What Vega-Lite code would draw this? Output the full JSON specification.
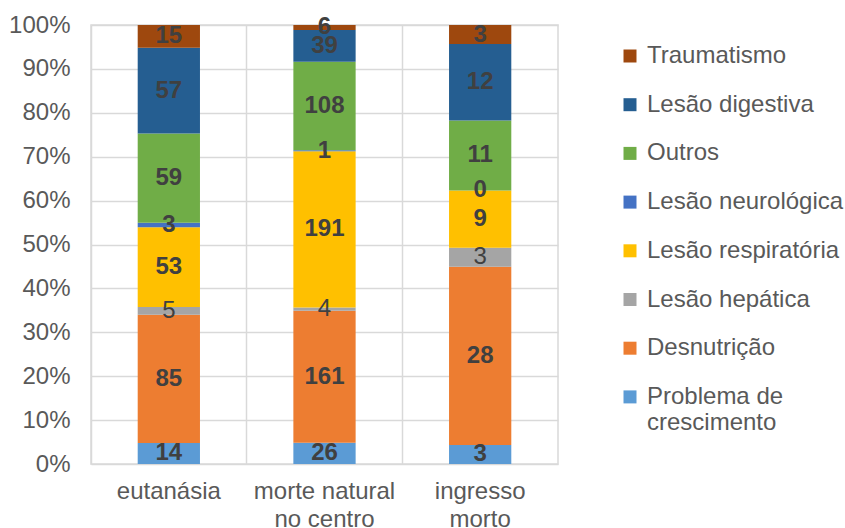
{
  "$schema": "https://vega.github.io/schema/vega-lite/v6.json",
  "width": 467,
  "height": 439,
  "autosize": {"type": "none"},
  "padding": {"left": 91, "top": 25, "right": 287, "bottom": 64},
  "background": "white",
  "config": {
    "font": "Liberation Sans",
    "view": {"stroke": "#d9d9d9", "strokeWidth": 1.5}
  },
  "data": {
    "values": [
      {"grupo": "eutanásia", "causa": "Problema de crescimento", "n": 14},
      {"grupo": "eutanásia", "causa": "Desnutrição", "n": 85},
      {"grupo": "eutanásia", "causa": "Lesão hepática", "n": 5},
      {"grupo": "eutanásia", "causa": "Lesão respiratória", "n": 53},
      {"grupo": "eutanásia", "causa": "Lesão neurológica", "n": 3},
      {"grupo": "eutanásia", "causa": "Outros", "n": 59},
      {"grupo": "eutanásia", "causa": "Lesão digestiva", "n": 57},
      {"grupo": "eutanásia", "causa": "Traumatismo", "n": 15},
      {"grupo": "morte natural no centro", "causa": "Problema de crescimento", "n": 26},
      {"grupo": "morte natural no centro", "causa": "Desnutrição", "n": 161},
      {"grupo": "morte natural no centro", "causa": "Lesão hepática", "n": 4},
      {"grupo": "morte natural no centro", "causa": "Lesão respiratória", "n": 191},
      {"grupo": "morte natural no centro", "causa": "Lesão neurológica", "n": 1},
      {"grupo": "morte natural no centro", "causa": "Outros", "n": 108},
      {"grupo": "morte natural no centro", "causa": "Lesão digestiva", "n": 39},
      {"grupo": "morte natural no centro", "causa": "Traumatismo", "n": 6},
      {"grupo": "ingresso morto", "causa": "Problema de crescimento", "n": 3},
      {"grupo": "ingresso morto", "causa": "Desnutrição", "n": 28},
      {"grupo": "ingresso morto", "causa": "Lesão hepática", "n": 3},
      {"grupo": "ingresso morto", "causa": "Lesão respiratória", "n": 9},
      {"grupo": "ingresso morto", "causa": "Lesão neurológica", "n": 0},
      {"grupo": "ingresso morto", "causa": "Outros", "n": 11},
      {"grupo": "ingresso morto", "causa": "Lesão digestiva", "n": 12},
      {"grupo": "ingresso morto", "causa": "Traumatismo", "n": 3}
    ]
  },
  "transform": [
    {"calculate": "indexof(['Problema de crescimento','Desnutrição','Lesão hepática','Lesão respiratória','Lesão neurológica','Outros','Lesão digestiva','Traumatismo'], datum.causa)", "as": "ordem"},
    {"stack": "n", "groupby": ["grupo"], "sort": [{"field": "ordem"}], "offset": "normalize", "as": ["y0", "y1"]},
    {"calculate": "(datum.y0 + datum.y1) / 2", "as": "ymid"}
  ],
  "encoding": {
    "x": {
      "field": "grupo",
      "type": "nominal",
      "sort": ["eutanásia", "morte natural no centro", "ingresso morto"],
      "scale": {"paddingInner": 0, "paddingOuter": 0},
      "axis": {
        "title": null,
        "bandPosition": 0,
        "grid": true,
        "gridColor": "#d9d9d9",
        "gridWidth": 1.5,
        "ticks": false,
        "domain": false,
        "labelAngle": 0,
        "labelPadding": 15,
        "labelFontSize": 24,
        "labelColor": "#595959",
        "labelLineHeight": 28,
        "labelBaseline": "top",
        "labelExpr": "datum.value == 'morte natural no centro' ? ['morte natural', 'no centro'] : datum.value == 'ingresso morto' ? ['ingresso', 'morto'] : datum.value"
      }
    }
  },
  "layer": [
    {
      "mark": {"type": "bar", "width": {"band": 0.4}},
      "encoding": {
        "y": {
          "field": "y0",
          "type": "quantitative",
          "scale": {"domain": [0, 1]},
          "axis": {
            "title": null,
            "format": ".0%",
            "tickCount": 10,
            "grid": true,
            "gridColor": "#d9d9d9",
            "gridWidth": 1.5,
            "ticks": false,
            "domain": false,
            "labelPadding": 21,
            "labelFontSize": 24,
            "labelColor": "#595959"
          }
        },
        "y2": {"field": "y1"},
        "color": {
          "field": "causa",
          "type": "nominal",
          "scale": {
            "domain": ["Traumatismo", "Lesão digestiva", "Outros", "Lesão neurológica", "Lesão respiratória", "Lesão hepática", "Desnutrição", "Problema de crescimento"],
            "range": ["#9E480E", "#255E91", "#70AD47", "#4472C4", "#FFC000", "#A5A5A5", "#ED7D31", "#5B9BD5"]
          },
          "legend": {
            "title": null,
            "orient": "none",
            "legendX": 527,
            "legendY": 19,
            "symbolType": "square",
            "symbolSize": 169,
            "symbolStrokeWidth": 0,
            "labelFontSize": 24,
            "labelColor": "#595959",
            "labelOffset": 5,
            "labelLimit": 300,
            "labelLineHeight": 27,
            "rowPadding": 24.7,
            "labelExpr": "datum.label == 'Problema de crescimento' ? ['Problema de', 'crescimento'] : datum.label"
          }
        }
      }
    },
    {
      "transform": [{"filter": "datum.causa != 'Lesão hepática'"}],
      "mark": {"type": "text", "fontWeight": "bold", "fontSize": 24, "color": "#404040", "baseline": "middle"},
      "encoding": {
        "y": {"field": "ymid", "type": "quantitative"},
        "text": {"field": "n", "type": "quantitative"}
      }
    },
    {
      "transform": [{"filter": "datum.causa == 'Lesão hepática'"}],
      "mark": {"type": "text", "fontSize": 24, "color": "#404040", "baseline": "middle"},
      "encoding": {
        "y": {"field": "ymid", "type": "quantitative"},
        "text": {"field": "n", "type": "quantitative"}
      }
    }
  ]
}
